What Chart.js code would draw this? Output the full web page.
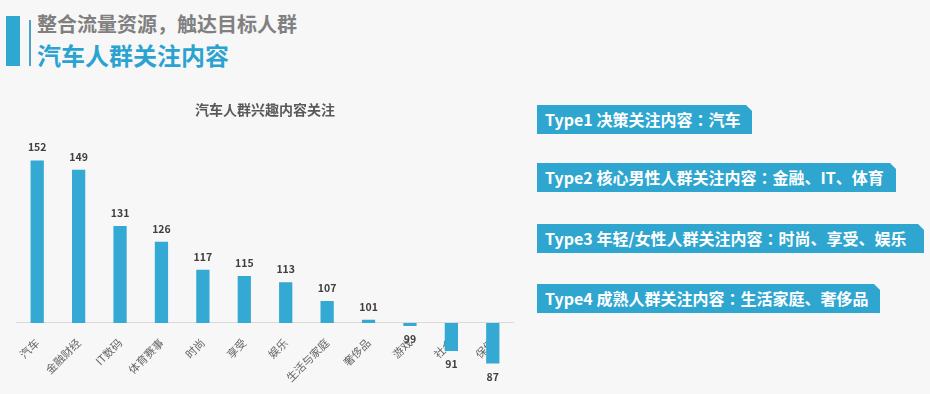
<!DOCTYPE html>
<html>
<head>
<meta charset="utf-8">
<script src="https://cdn.jsdelivr.net/npm/chart.js@4.4.0/dist/chart.umd.min.js"></script>
<style>
  html, body { margin:0; padding:0; background:#f7f7f7; }
  body { width:930px; height:394px; position:relative; overflow:hidden; font-family:"Noto Sans CJK SC", "Noto Sans", sans-serif; }
  .accent { position:absolute; left:6px; top:16px; width:14px; height:50px; background:#2ea8d0; }
  .thin { position:absolute; left:29px; top:20px; width:2px; height:46px; background:#4aa3c7; }
  .h1 { position:absolute; left:37px; top:10px; font-size:20px; font-weight:bold; color:#808080; line-height:28px; white-space:nowrap; }
  .h2 { position:absolute; left:37px; top:40px; font-size:24px; font-weight:bold; color:#2ba3d1; line-height:30px; white-space:nowrap; }
  .box { position:absolute; left:537px; height:29px; background:#2fa6d0; color:#fff; font-weight:bold; font-size:16px; line-height:29px; padding-left:8px; box-sizing:border-box; white-space:nowrap;
         clip-path: polygon(0 0, calc(100% - 6px) 0, 100% 6px, 100% 100%, 0 100%); }
  .colon { font-family:"Noto Sans CJK TC", "Noto Sans CJK SC", sans-serif; }
  #wrap { position:absolute; left:0; top:95px; width:530px; height:299px; }
</style>
</head>
<body>
<div class="accent"></div>
<div class="thin"></div>
<div class="h1">整合流量资源，触达目标人群</div>
<div class="h2">汽车人群关注内容</div>

<div class="box" style="top:105px; width:215px;">Type1 决策关注内容<span class="colon">：</span>汽车</div>
<div class="box" style="top:163px; width:359px;">Type2 核心男性人群关注内容<span class="colon">：</span>金融、IT、体育</div>
<div class="box" style="top:224px; width:387px;">Type3 年轻/女性人群关注内容<span class="colon">：</span>时尚、享受、娱乐</div>
<div class="box" style="top:284px; width:343px;">Type4 成熟人群关注内容<span class="colon">：</span>生活家庭、奢侈品</div>

<div id="wrap"><canvas id="c" width="530" height="299"></canvas></div>

<script>
const chartTitle = "汽车人群兴趣内容关注";
const categories = ["汽车", "金融财经", "IT数码", "体育赛事", "时尚", "享受", "娱乐", "生活与家庭", "奢侈品", "游戏", "社会", "保健"];
const values = [152, 149, 131, 126, 117, 115, 113, 107, 101, 99, 91, 87];
const baseline = 100;

const labelPlugin = {
  id: 'valueLabels',
  afterDatasetsDraw(chart) {
    const ctx = chart.ctx;
    const yS = chart.scales.y;
    const meta = chart.getDatasetMeta(0);
    ctx.save();
    ctx.font = 'bold 10.5px "Noto Sans CJK SC", "Noto Sans", sans-serif';
    ctx.fillStyle = '#404040';
    ctx.textAlign = 'center';
    ctx.textBaseline = 'middle';
    meta.data.forEach((el, i) => {
      const v = values[i];
      const py = yS.getPixelForValue(v);
      const ty = v >= baseline ? py - 13 : py + 13;
      ctx.fillText(String(v), el.x, ty);
    });
    ctx.restore();
  }
};

new Chart(document.getElementById('c'), {
  type: 'bar',
  data: {
    labels: categories,
    datasets: [{
      data: values.map(v => [baseline, v]),
      backgroundColor: '#33a9d3',
      borderWidth: 0,
      barPercentage: 0.32,
      categoryPercentage: 1.0
    }]
  },
  options: {
    responsive: false,
    animation: false,
    layout: { padding: { left: 16.5, right: 16.5, top: 0, bottom: 21 } },
    plugins: {
      legend: { display: false },
      tooltip: { enabled: false },
      title: {
        display: true,
        text: chartTitle,
        color: '#595959',
        font: { size: 14, weight: 'bold', family: '"Noto Sans CJK SC", "Noto Sans", sans-serif', lineHeight: 1.2 },
        padding: { top: 6, bottom: 27 }
      }
    },
    scales: {
      x: {
        position: { y: baseline },
        grid: { display: false },
        border: { display: true, color: '#d9d9d9', width: 1 },
        ticks: {
          color: '#666666',
          font: { size: 11, family: '"Noto Sans CJK SC", "Noto Sans", sans-serif' },
          maxRotation: 45, minRotation: 45,
          padding: 5,
          autoSkip: false
        }
      },
      y: {
        display: false,
        min: 84,
        max: 157
      }
    }
  },
  plugins: [labelPlugin]
});
</script>
</body>
</html>
